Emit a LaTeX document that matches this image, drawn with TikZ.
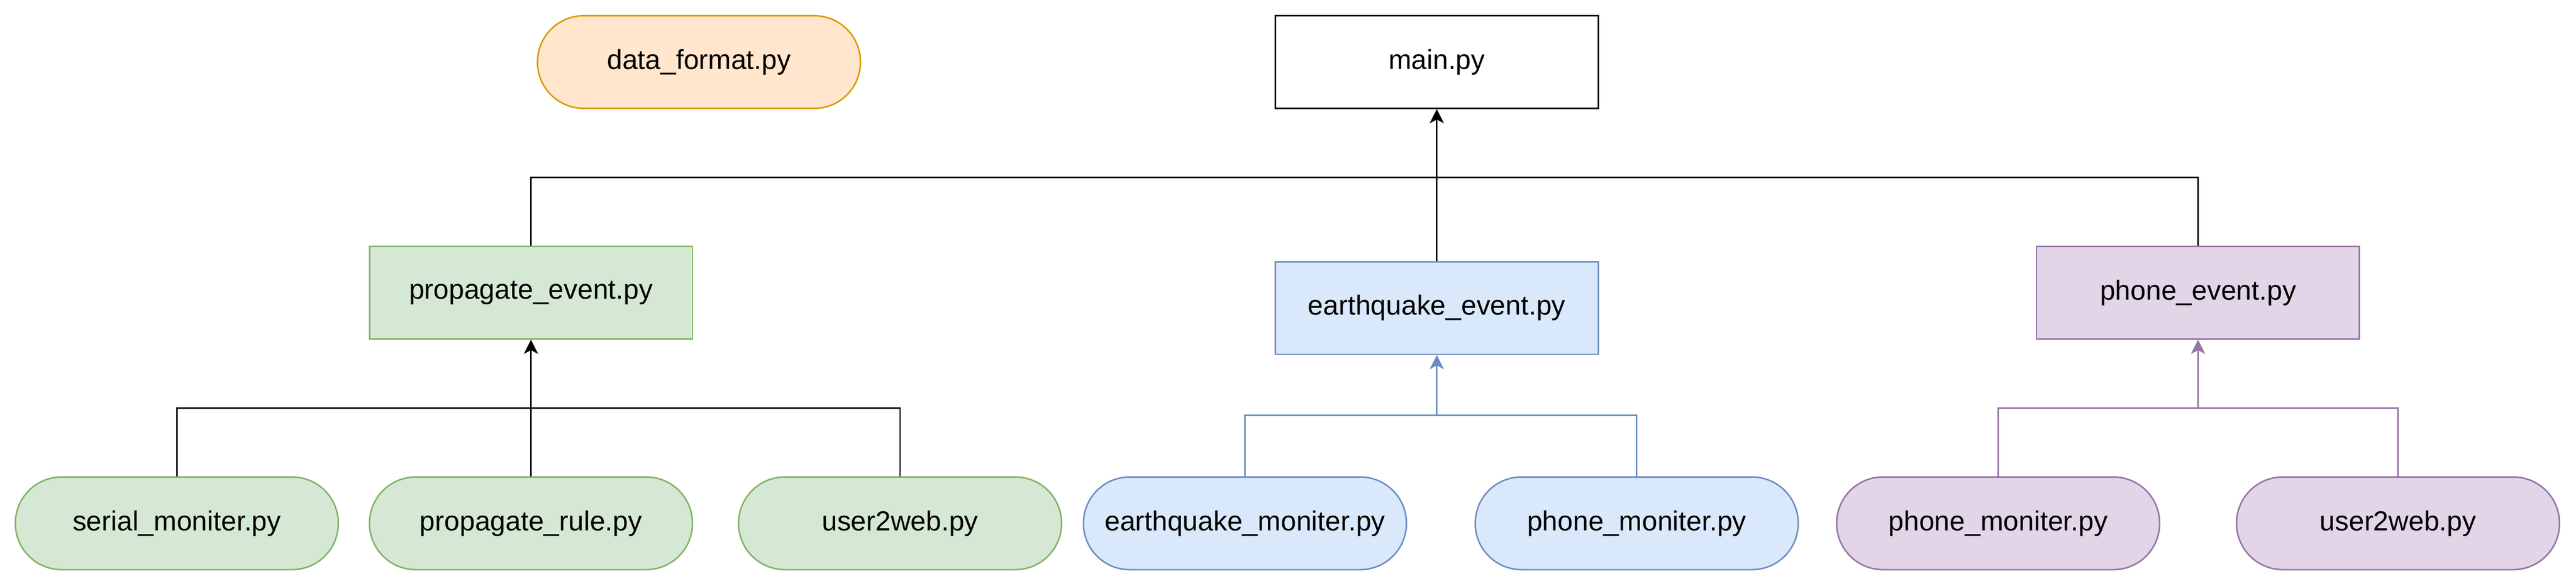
\documentclass[tikz,border=0pt]{standalone}
\usepackage{fontspec}
\setmainfont{Liberation Sans}
\usetikzlibrary{arrows.meta}

\definecolor{greenfill}{HTML}{D5E8D4}
\definecolor{greenline}{HTML}{82B366}
\definecolor{bluefill}{HTML}{DAE8FC}
\definecolor{blueline}{HTML}{6C8EBF}
\definecolor{purplefill}{HTML}{E1D5E7}
\definecolor{purpleline}{HTML}{9673A6}
\definecolor{orangefill}{HTML}{FFE6CC}
\definecolor{orangeline}{HTML}{D79B00}

\tikzset{
  filebox/.style={draw, line width=1.1pt, minimum width=8.4cm, minimum height=2.41cm,
    inner sep=0pt, font=\fontsize{20.4pt}{24pt}\selectfont},
  modbox/.style={filebox, rounded corners=1.2cm},
  link/.style={line width=1.1pt},
  uplink/.style={link, -{Stealth[length=0.37cm, width=0.37cm, inset=0.1cm]}}
}

\begin{document}
\begin{tikzpicture}

% Fix the page size
\useasboundingbox (0,0) rectangle (67,15.24);

% Top row
\node[modbox, fill=orangefill, draw=orangeline] (dataformat) at (18.18,13.625) {data\_format.py};
\node[filebox] (main) at (37.37,13.625) {main.py};

% Event files
\node[filebox, fill=greenfill, draw=greenline] (propevent) at (13.81,7.624) {propagate\_event.py};
\node[filebox, fill=bluefill, draw=blueline] (eqevent) at (37.37,7.226) {earthquake\_event.py};
\node[filebox, fill=purplefill, draw=purpleline] (phoneevent) at (57.17,7.624) {phone\_event.py};

% Monitor files
\node[modbox, fill=greenfill, draw=greenline] (serialmon) at (4.60,1.622) {serial\_moniter.py};
\node[modbox, fill=greenfill, draw=greenline] (proprule) at (13.81,1.622) {propagate\_rule.py};
\node[modbox, fill=greenfill, draw=greenline] (userweb) at (23.41,1.622) {user2web.py};
\node[modbox, fill=bluefill, draw=blueline] (eqmon) at (32.38,1.622) {earthquake\_moniter.py};
\node[modbox, fill=bluefill, draw=blueline] (phonemon) at (42.57,1.622) {phone\_moniter.py};
\node[modbox, fill=purplefill, draw=purpleline] (phonemonB) at (51.97,1.622) {phone\_moniter.py};
\node[modbox, fill=purplefill, draw=purpleline] (userwebB) at (62.37,1.622) {user2web.py};

% Bus points
\coordinate (topbus) at (37.37,10.623);
\coordinate (greenbus) at (13.81,4.616);
\coordinate (bluebus) at (37.37,4.431);
\coordinate (purplebus) at (57.17,4.616);

% Events into main
\draw[link] (propevent.north) |- (topbus);
\draw[link] (phoneevent.north) |- (topbus);
\draw[uplink] (eqevent.north) -- (main.south);

% Green branch
\draw[link] (serialmon.north) |- (greenbus);
\draw[link] (userweb.north) |- (greenbus);
\draw[uplink] (proprule.north) -- (propevent.south);

% Blue branch
\begin{scope}[blueline]
\draw[link] (phonemon.north) |- (bluebus);
\draw[uplink] (eqmon.north) |- (bluebus) -- (eqevent.south);
\end{scope}

% Purple branch
\begin{scope}[purpleline]
\draw[link] (userwebB.north) |- (purplebus);
\draw[uplink] (phonemonB.north) |- (purplebus) -- (phoneevent.south);
\end{scope}

\end{tikzpicture}
\end{document}
